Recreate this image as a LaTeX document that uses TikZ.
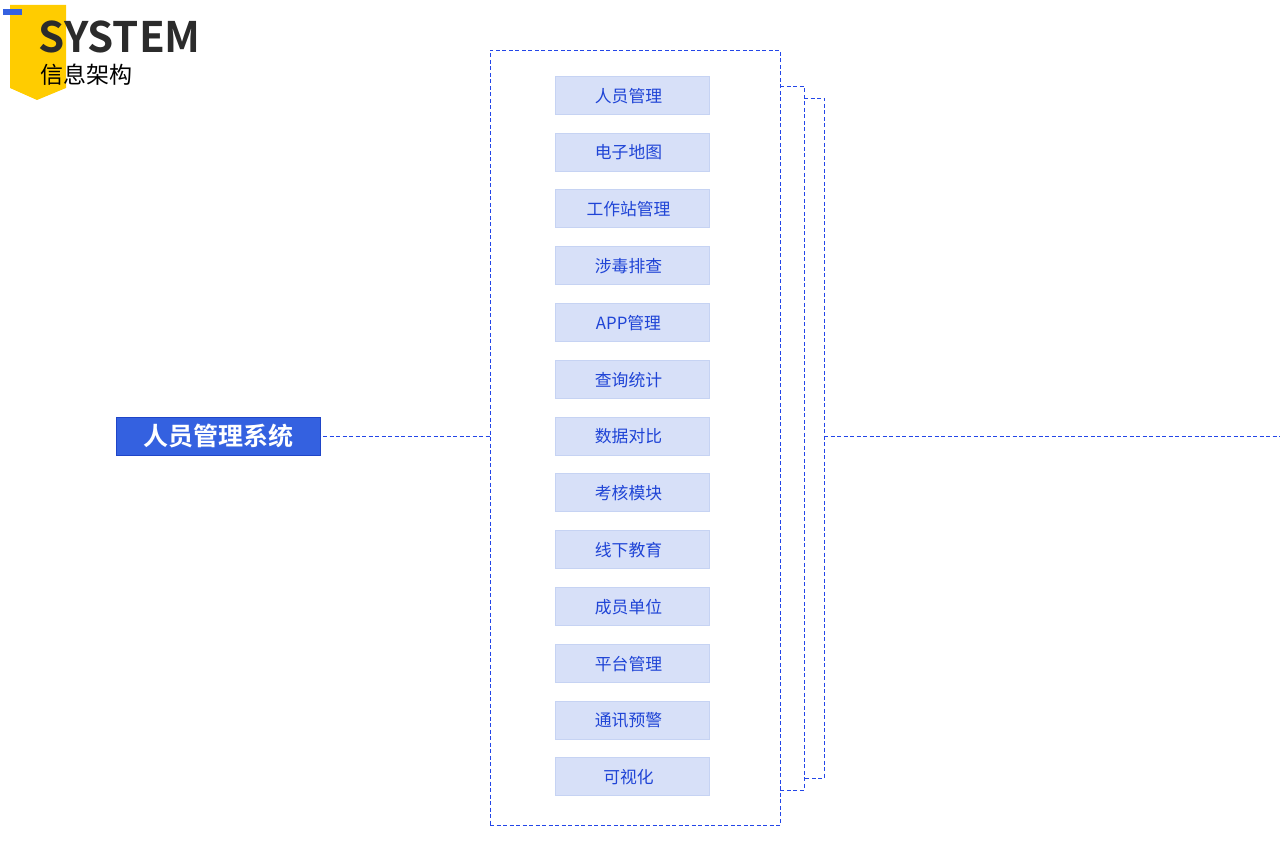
\documentclass[tikz,border=0pt]{standalone}
\usepackage{fontspec}
\setmainfont{Noto Sans CJK SC}[BoldFont={Noto Sans CJK SC Bold}]
\usetikzlibrary{positioning}

\definecolor{linkblue}{HTML}{2346E8}
\definecolor{sysblue}{HTML}{3461E0}
\definecolor{sysedge}{HTML}{1F45C8}
\definecolor{itemfill}{HTML}{D7E0F8}
\definecolor{itemedge}{HTML}{C6D3F3}
\definecolor{itemtext}{HTML}{1F44D6}
\definecolor{tagyellow}{HTML}{FFCC00}
\definecolor{darktext}{HTML}{2B2B2B}

\begin{document}
\begin{tikzpicture}[
    x=1pt, y=-1pt,
    node distance=18.4pt,
    item/.style={rectangle, draw=itemedge, fill=itemfill, text=itemtext, minimum width=154pt, minimum height=38pt, inner sep=0pt, text depth=0pt, execute at end node={\hspace{8pt}}, font=\fontsize{16.8}{18}\selectfont},
    sysbox/.style={rectangle, draw=sysedge, fill=sysblue, text=white, minimum width=204pt, minimum height=38pt, inner sep=0pt, font=\fontsize{25}{28}\selectfont\bfseries},
    frame/.style={rectangle, draw=linkblue, dash pattern=on 4pt off 2.5pt, minimum width=290pt, minimum height=775pt, inner sep=0pt},
    link/.style={draw=linkblue, line width=0.9pt, dash pattern=on 4pt off 2.5pt}
]
\useasboundingbox (0,0) rectangle (1280,848);

% header tag
\fill[tagyellow] (10,5) -- (66,5) -- (66,88) -- (37,100) -- (10,88) -- cycle;
\fill[sysblue] (3,9) rectangle (22,15);
\node[anchor=base west, inner sep=0pt, text=darktext, font=\fontsize{42}{46}\selectfont\bfseries] (title) at (38.5,53) {SYSTEM};
\node[anchor=base west, inner sep=0pt, text=black, font=\fontsize{23}{25}\selectfont] (subtitle) at (40,84) {信息架构};

% system and modules
\node[sysbox] (sys) at (218,436) {人员管理系统};
\node[frame, line width=0.9pt] (modules) at (635,437.5) {};

\node[item] (m1) at (632.5,95) {人员管理};
\node[item, below=of m1] (m2) {电子地图};
\node[item, below=of m2] (m3) {工作站管理};
\node[item, below=of m3] (m4) {涉毒排查};
\node[item, below=of m4] (m5) {APP管理};
\node[item, below=of m5] (m6) {查询统计};
\node[item, below=of m6] (m7) {数据对比};
\node[item, below=of m7] (m8) {考核模块};
\node[item, below=of m8] (m9) {线下教育};
\node[item, below=of m9] (m10) {成员单位};
\node[item, below=of m10] (m11) {平台管理};
\node[item, below=of m11] (m12) {通讯预警};
\node[item, below=of m12] (m13) {可视化};

% brackets on the right
\coordinate (b1t) at (804,86);
\coordinate (b1b) at (804,790);
\coordinate (b2t) at (824,98);
\coordinate (b2b) at (824,778);
\coordinate (out) at (1280,436);

\draw[link] ([xshift=3pt]sys.east) -- (sys.east -| modules.west);
\draw[link] (modules.east |- b1t) -- (b1t) -- (b1b) -- (modules.east |- b1b);
\draw[link] (b1t |- b2t) -- (b2t) -- (b2b) -- (b1b |- b2b);
\draw[link] (b2t |- out) -- (out);

\end{tikzpicture}
\end{document}
